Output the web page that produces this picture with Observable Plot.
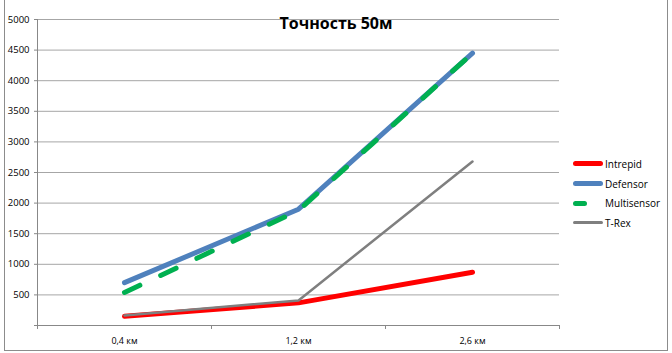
<!DOCTYPE html>
<html><head><meta charset="utf-8">
<script src="https://cdn.jsdelivr.net/npm/d3@7"></script>
<script src="https://cdn.jsdelivr.net/npm/@observablehq/plot@0.6"></script>
<style>
body{margin:0;background:#fff;font-family:"Open Sans",sans-serif;}
#wrap{position:relative;width:672px;height:353px;overflow:hidden;}
#frame{position:absolute;left:4px;top:-2px;width:664px;height:353px;border:1px solid #8c8c8c;box-sizing:border-box;}
#chart{position:absolute;left:0;top:0;}
#title{position:absolute;left:0;width:672px;top:12px;text-align:center;font-weight:bold;font-size:16px;color:#000;}
#legend{position:absolute;left:573px;top:154px;font-size:10px;color:#000;}
.li{display:flex;align-items:center;height:19.7px;}
.sw{width:30px;height:0;border-top-style:solid;border-radius:3px;margin-right:2px;}
</style></head>
<body><div id="wrap"><div id="frame"></div><div id="chart"></div><div id="title">Точность 50м</div><div id="legend"></div></div>
<script>
const categories = ["0,4 км", "1,2 км", "2,6 км"];
const seriesNames = ["Intrepid", "Defensor", "Multisensor", "T-Rex"];
const intrepid = [150, 370, 870];
const defensor = [700, 1900, 4450];
const multisensor = [540, 1880, 4450];
const trex = [165, 410, 2680];
const yTicks = [500, 1000, 1500, 2000, 2500, 3000, 3500, 4000, 4500, 5000];

const colors = {"Intrepid":"#ff0000","Defensor":"#4f81bd","Multisensor":"#00b050","T-Rex":"#7f7f7f"};
const widths = {"Intrepid":5,"Defensor":5,"Multisensor":5,"T-Rex":2.5};
const values = [intrepid, defensor, multisensor, trex];
const rows = [];
seriesNames.forEach((s, i) => categories.forEach((c, j) => rows.push({series: s, cat: c, v: values[i][j]})));

const W = 672, H = 353;
const lineMarks = seriesNames.map(s => Plot.line(rows.filter(r => r.series === s), {
  x: "cat", y: "v", stroke: colors[s], strokeWidth: widths[s],
  strokeLinecap: "round", strokeLinejoin: "round",
  strokeDasharray: s === "Multisensor" ? "17,23" : undefined
}));
const bw = (W - 37 - 113) / categories.length;

const plot = Plot.plot({
  width: W, height: H,
  marginLeft: 37, marginRight: 113, marginTop: 19, marginBottom: 28,
  style: {fontFamily: "'Open Sans',sans-serif", fontSize: "9px", color: "#000", background: "transparent"},
  x: {type: "band", domain: categories, padding: 0, axis: null},
  y: {type: "linear", domain: [0, 5000], axis: null},
  marks: [
    Plot.ruleY(yTicks, {stroke: "#a6a6a6", strokeOpacity: 1}),
    Plot.axisY(yTicks, {tickSize: 3, tickPadding: 5, stroke: "#888", fill: "#000", label: null, fontSize: 9.5, tickFormat: d => String(d)}),
    Plot.axisY([0], {tickSize: 3, stroke: "#888", label: null, tickFormat: () => ""}),
    Plot.frame({anchor: "left", stroke: "#888"}),
    Plot.ruleY([0], {stroke: "#888"}),
    Plot.axisX(categories, {tickSize: 0, tickPadding: 12, label: null, fontSize: 9, fill: "#000"}),
    Plot.ruleX(categories, {x: d => d, y1: 0, y2: -65, dx: -bw / 2, stroke: "#888"}),
    Plot.ruleX(categories.slice(2), {x: d => d, y1: 0, y2: -65, dx: bw / 2, stroke: "#888"}),
    ...lineMarks
  ]
});
document.getElementById("chart").appendChild(plot);

const leg = document.getElementById("legend");
seriesNames.forEach(s => {
  const d = document.createElement("div"); d.className = "li";
  const sw = document.createElement("div"); sw.className = "sw";
  sw.style.borderTopColor = colors[s];
  sw.style.borderTopWidth = (s === "T-Rex" ? 3 : 5) + "px";
  if (s === "Multisensor") { sw.style.width = "14px"; sw.style.marginRight = "18px"; }
  const t = document.createElement("span"); t.textContent = s;
  d.appendChild(sw); d.appendChild(t); leg.appendChild(d);
});
</script></body></html>
